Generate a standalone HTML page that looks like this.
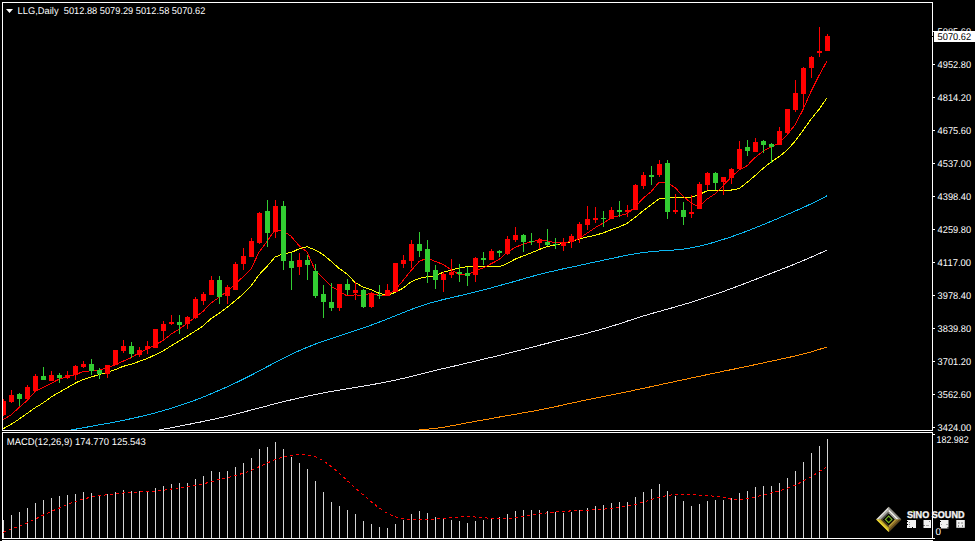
<!DOCTYPE html>
<html><head><meta charset="utf-8"><title>LLG,Daily</title>
<style>html,body{margin:0;padding:0;background:#000;width:975px;height:541px;overflow:hidden}svg{display:block}</style>
</head><body>
<svg width="975" height="541" viewBox="0 0 975 541"><rect x="0" y="0" width="975" height="541" fill="#000"/>
<defs><clipPath id="cm"><rect x="3" y="3" width="929" height="427"/></clipPath><clipPath id="cd"><rect x="3" y="433" width="929" height="105"/></clipPath></defs>
<g clip-path="url(#cm)">
<polyline points="-5.0,472.5 3.0,471.7 11.0,470.9 19.0,470.1 27.0,469.3 35.0,468.5 43.0,467.7 51.0,466.9 59.0,466.0 67.0,465.2 75.0,464.4 83.0,463.6 91.0,462.8 99.0,462.0 107.0,461.2 115.0,460.4 123.0,459.6 131.0,458.8 139.0,458.0 147.0,457.2 155.0,456.4 163.0,455.6 171.0,454.8 179.0,454.0 187.0,453.2 195.0,452.4 203.0,451.6 211.0,450.8 219.0,450.0 227.0,449.2 235.0,448.4 243.0,447.6 251.0,446.8 259.0,446.0 267.0,445.2 275.0,444.4 283.0,443.6 291.0,442.8 299.0,442.0 307.0,441.2 315.0,440.4 323.0,439.6 331.0,438.8 339.0,438.0 347.0,437.2 355.0,436.4 363.0,435.6 371.0,434.8 379.0,434.0 387.0,433.2 395.0,432.4 403.0,431.6 411.0,430.8 419.0,430.0 427.0,429.2 435.0,428.4 443.0,427.3 451.0,425.9 459.0,424.4 467.0,422.9 475.0,421.4 483.0,420.0 491.0,418.6 499.0,417.1 507.0,415.7 515.0,414.3 523.0,412.9 531.0,411.5 539.0,410.0 547.0,408.5 555.0,406.8 563.0,405.0 571.0,403.2 579.0,401.5 587.0,399.8 595.0,398.2 603.0,396.6 611.0,395.0 619.0,393.4 627.0,391.8 635.0,390.1 643.0,388.4 651.0,386.7 659.0,385.0 667.0,383.2 675.0,381.5 683.0,379.8 691.0,378.1 699.0,376.4 707.0,374.7 715.0,373.0 723.0,371.3 731.0,369.7 739.0,368.1 747.0,366.4 755.0,364.7 763.0,363.0 771.0,361.2 779.0,359.5 787.0,357.8 795.0,356.0 803.0,354.0 811.0,351.9 819.0,349.5 827.0,346.9" fill="none" stroke="#ff8c00" stroke-width="1" shape-rendering="crispEdges"/>
<polyline points="-5.0,460.4 3.0,458.9 11.0,457.4 19.0,455.9 27.0,454.5 35.0,453.0 43.0,451.5 51.0,450.0 59.0,448.5 67.0,447.0 75.0,445.6 83.0,444.1 91.0,442.6 99.0,441.1 107.0,439.6 115.0,438.1 123.0,436.7 131.0,435.2 139.0,433.7 147.0,432.2 155.0,430.7 163.0,429.2 171.0,427.8 179.0,426.2 187.0,424.7 195.0,423.1 203.0,421.5 211.0,419.9 219.0,418.1 227.0,416.3 235.0,414.3 243.0,412.2 251.0,410.1 259.0,408.0 267.0,405.9 275.0,403.8 283.0,401.8 291.0,399.9 299.0,398.1 307.0,396.3 315.0,394.6 323.0,393.0 331.0,391.5 339.0,390.2 347.0,388.8 355.0,387.5 363.0,386.2 371.0,384.8 379.0,383.4 387.0,381.9 395.0,380.2 403.0,378.4 411.0,376.4 419.0,374.4 427.0,372.4 435.0,370.5 443.0,368.6 451.0,366.8 459.0,365.0 467.0,363.1 475.0,361.2 483.0,359.3 491.0,357.4 499.0,355.4 507.0,353.4 515.0,351.4 523.0,349.5 531.0,347.5 539.0,345.4 547.0,343.4 555.0,341.3 563.0,339.3 571.0,337.2 579.0,335.2 587.0,333.2 595.0,331.0 603.0,328.8 611.0,326.4 619.0,323.9 627.0,321.2 635.0,318.6 643.0,316.1 651.0,313.7 659.0,311.5 667.0,309.3 675.0,307.0 683.0,304.7 691.0,302.3 699.0,299.7 707.0,297.1 715.0,294.4 723.0,291.6 731.0,288.7 739.0,285.7 747.0,282.7 755.0,279.6 763.0,276.5 771.0,273.4 779.0,270.3 787.0,267.2 795.0,264.0 803.0,260.7 811.0,257.2 819.0,253.7 827.0,250.1" fill="none" stroke="#e8e8f0" stroke-width="1" shape-rendering="crispEdges"/>
<polyline points="-5.0,444.3 3.0,442.8 11.0,441.3 19.0,439.8 27.0,438.3 35.0,436.8 43.0,435.3 51.0,433.8 59.0,432.3 67.0,430.8 75.0,429.3 83.0,427.8 91.0,426.4 99.0,424.9 107.0,423.5 115.0,422.0 123.0,420.4 131.0,418.7 139.0,416.9 147.0,415.0 155.0,412.9 163.0,410.7 171.0,408.3 179.0,405.8 187.0,403.1 195.0,400.2 203.0,397.1 211.0,393.8 219.0,390.4 227.0,386.9 235.0,383.2 243.0,379.3 251.0,375.3 259.0,371.1 267.0,366.8 275.0,362.6 283.0,358.5 291.0,354.5 299.0,350.8 307.0,347.4 315.0,344.2 323.0,341.3 331.0,338.6 339.0,336.0 347.0,333.4 355.0,330.8 363.0,328.0 371.0,325.2 379.0,322.2 387.0,319.1 395.0,315.9 403.0,312.7 411.0,309.6 419.0,306.6 427.0,304.0 435.0,301.7 443.0,299.6 451.0,297.7 459.0,295.9 467.0,294.0 475.0,292.0 483.0,290.0 491.0,287.9 499.0,285.7 507.0,283.5 515.0,281.3 523.0,279.0 531.0,276.7 539.0,274.5 547.0,272.5 555.0,270.7 563.0,268.9 571.0,267.2 579.0,265.5 587.0,263.7 595.0,262.0 603.0,260.3 611.0,258.6 619.0,256.9 627.0,255.2 635.0,253.8 643.0,252.6 651.0,251.6 659.0,251.0 667.0,250.5 675.0,249.9 683.0,249.1 691.0,247.9 699.0,246.2 707.0,244.3 715.0,242.0 723.0,239.5 731.0,236.9 739.0,234.1 747.0,231.1 755.0,228.0 763.0,224.7 771.0,221.4 779.0,218.0 787.0,214.6 795.0,211.1 803.0,207.6 811.0,203.9 819.0,200.0 827.0,195.8" fill="none" stroke="#0cb8f2" stroke-width="1" shape-rendering="crispEdges"/>
<polyline points="-5.0,433.4 3.0,428.9 11.0,424.4 19.0,419.2 27.0,413.5 35.0,407.8 43.0,403.0 51.0,397.1 59.0,392.4 67.0,388.0 75.0,383.2 83.0,379.5 91.0,377.1 99.0,374.6 107.0,372.4 115.0,369.8 123.0,366.4 131.0,364.3 139.0,361.5 147.0,358.6 155.0,354.9 163.0,350.9 171.0,346.0 179.0,341.1 187.0,336.3 195.0,331.2 203.0,326.0 211.0,318.6 219.0,313.3 227.0,307.4 235.0,300.9 243.0,294.1 251.0,286.0 259.0,274.8 267.0,266.4 275.0,257.1 283.0,253.8 291.0,252.6 299.0,248.9 307.0,246.7 315.0,249.9 323.0,254.5 331.0,261.2 339.0,268.3 347.0,274.0 355.0,282.4 363.0,287.0 371.0,289.6 379.0,293.2 387.0,295.7 395.0,292.4 403.0,288.2 411.0,281.8 419.0,278.5 427.0,276.7 435.0,275.7 443.0,272.4 451.0,270.2 459.0,268.0 467.0,266.6 475.0,266.1 483.0,266.1 491.0,266.8 499.0,267.0 507.0,263.7 515.0,259.2 523.0,256.0 531.0,253.0 539.0,249.6 547.0,246.5 555.0,245.2 563.0,243.4 571.0,241.9 579.0,239.0 587.0,237.0 595.0,235.3 603.0,233.0 611.0,229.8 619.0,227.0 627.0,223.5 635.0,217.5 643.0,210.8 651.0,204.9 659.0,198.9 667.0,198.2 675.0,197.4 683.0,197.2 691.0,197.4 699.0,194.6 707.0,190.9 715.0,190.7 723.0,190.9 731.0,190.1 739.0,188.6 747.0,182.5 755.0,175.7 763.0,168.5 771.0,162.0 779.0,156.7 787.0,150.3 795.0,141.3 803.0,130.4 811.0,119.2 819.0,109.4 827.0,97.9" fill="none" stroke="#ffff00" stroke-width="1" shape-rendering="crispEdges"/>
<polyline points="-5.0,423.9 3.0,419.5 11.0,415.1 19.0,407.5 27.0,400.6 35.0,391.6 43.0,387.4 51.0,383.4 59.0,379.2 67.0,376.8 75.0,374.8 83.0,371.6 91.0,370.8 99.0,370.0 107.0,368.0 115.0,364.8 123.0,361.2 131.0,357.8 139.0,353.0 147.0,349.2 155.0,345.0 163.0,340.6 171.0,334.2 179.0,329.2 187.0,323.4 195.0,317.4 203.0,311.4 211.0,303.0 219.0,297.4 227.0,291.4 235.0,284.4 243.0,276.8 251.0,269.0 259.0,252.2 267.0,241.4 275.0,229.8 283.0,230.8 291.0,236.2 299.0,245.6 307.0,252.0 315.0,270.0 323.0,278.2 331.0,286.2 339.0,291.0 347.0,296.0 355.0,294.8 363.0,295.8 371.0,293.0 379.0,295.4 387.0,295.4 395.0,290.0 403.0,280.6 411.0,270.6 419.0,261.6 427.0,258.0 435.0,261.4 443.0,264.2 451.0,269.8 459.0,274.4 467.0,275.2 475.0,270.8 483.0,268.0 491.0,263.8 499.0,259.6 507.0,252.2 515.0,247.6 523.0,244.0 531.0,242.2 539.0,239.6 547.0,240.8 555.0,242.8 563.0,242.8 571.0,241.6 579.0,238.4 587.0,233.2 595.0,227.8 603.0,223.2 611.0,218.0 619.0,215.6 627.0,213.8 635.0,207.2 643.0,198.4 651.0,191.8 659.0,182.2 667.0,182.6 675.0,187.6 683.0,196.0 691.0,203.0 699.0,207.0 707.0,199.2 715.0,193.8 723.0,185.8 731.0,177.2 739.0,170.2 747.0,165.8 755.0,157.6 763.0,151.2 771.0,146.8 779.0,143.2 787.0,134.8 795.0,125.0 803.0,109.6 811.0,91.6 819.0,75.6 827.0,61.0" fill="none" stroke="#ff0000" stroke-width="1" shape-rendering="crispEdges"/>
<rect x="3" y="399" width="1" height="17" fill="#ff0000"/>
<rect x="1" y="401" width="5" height="14" fill="#ff0000"/>
<rect x="11" y="390" width="1" height="13" fill="#ff0000"/>
<rect x="9" y="395" width="5" height="7" fill="#ff0000"/>
<rect x="19" y="393" width="1" height="13" fill="#32cd32"/>
<rect x="17" y="394" width="5" height="5" fill="#32cd32"/>
<rect x="27" y="385" width="1" height="14" fill="#ff0000"/>
<rect x="25" y="387" width="5" height="12" fill="#ff0000"/>
<rect x="35" y="374" width="1" height="17" fill="#ff0000"/>
<rect x="33" y="376" width="5" height="15" fill="#ff0000"/>
<rect x="43" y="367" width="1" height="13" fill="#32cd32"/>
<rect x="41" y="376" width="5" height="4" fill="#32cd32"/>
<rect x="51" y="371" width="1" height="10" fill="#ff0000"/>
<rect x="49" y="375" width="5" height="6" fill="#ff0000"/>
<rect x="59" y="373" width="1" height="10" fill="#32cd32"/>
<rect x="57" y="375" width="5" height="3" fill="#32cd32"/>
<rect x="67" y="371" width="1" height="8" fill="#ff0000"/>
<rect x="65" y="375" width="5" height="3" fill="#ff0000"/>
<rect x="75" y="365" width="1" height="15" fill="#ff0000"/>
<rect x="73" y="366" width="5" height="9" fill="#ff0000"/>
<rect x="83" y="361" width="1" height="7" fill="#ff0000"/>
<rect x="81" y="364" width="5" height="3" fill="#ff0000"/>
<rect x="91" y="359" width="1" height="16" fill="#32cd32"/>
<rect x="89" y="364" width="5" height="7" fill="#32cd32"/>
<rect x="99" y="368" width="1" height="11" fill="#32cd32"/>
<rect x="97" y="370" width="5" height="4" fill="#32cd32"/>
<rect x="107" y="365" width="1" height="13" fill="#ff0000"/>
<rect x="105" y="365" width="5" height="9" fill="#ff0000"/>
<rect x="115" y="350" width="1" height="15" fill="#ff0000"/>
<rect x="113" y="350" width="5" height="15" fill="#ff0000"/>
<rect x="123" y="340" width="1" height="13" fill="#ff0000"/>
<rect x="121" y="346" width="5" height="5" fill="#ff0000"/>
<rect x="131" y="342" width="1" height="16" fill="#32cd32"/>
<rect x="129" y="346" width="5" height="8" fill="#32cd32"/>
<rect x="139" y="347" width="1" height="10" fill="#ff0000"/>
<rect x="137" y="350" width="5" height="5" fill="#ff0000"/>
<rect x="147" y="341" width="1" height="13" fill="#ff0000"/>
<rect x="145" y="346" width="5" height="3" fill="#ff0000"/>
<rect x="155" y="329" width="1" height="19" fill="#ff0000"/>
<rect x="153" y="329" width="5" height="19" fill="#ff0000"/>
<rect x="163" y="321" width="1" height="19" fill="#ff0000"/>
<rect x="161" y="324" width="5" height="7" fill="#ff0000"/>
<rect x="171" y="315" width="1" height="10" fill="#ff0000"/>
<rect x="169" y="322" width="5" height="2" fill="#ff0000"/>
<rect x="179" y="315" width="1" height="19" fill="#32cd32"/>
<rect x="177" y="322" width="5" height="3" fill="#32cd32"/>
<rect x="187" y="316" width="1" height="13" fill="#ff0000"/>
<rect x="185" y="317" width="5" height="7" fill="#ff0000"/>
<rect x="195" y="297" width="1" height="22" fill="#ff0000"/>
<rect x="193" y="299" width="5" height="19" fill="#ff0000"/>
<rect x="203" y="292" width="1" height="13" fill="#ff0000"/>
<rect x="201" y="294" width="5" height="7" fill="#ff0000"/>
<rect x="211" y="276" width="1" height="19" fill="#ff0000"/>
<rect x="209" y="280" width="5" height="15" fill="#ff0000"/>
<rect x="219" y="276" width="1" height="28" fill="#32cd32"/>
<rect x="217" y="280" width="5" height="17" fill="#32cd32"/>
<rect x="227" y="285" width="1" height="19" fill="#ff0000"/>
<rect x="225" y="287" width="5" height="9" fill="#ff0000"/>
<rect x="235" y="262" width="1" height="28" fill="#ff0000"/>
<rect x="233" y="264" width="5" height="26" fill="#ff0000"/>
<rect x="243" y="248" width="1" height="22" fill="#ff0000"/>
<rect x="241" y="256" width="5" height="8" fill="#ff0000"/>
<rect x="251" y="238" width="1" height="19" fill="#ff0000"/>
<rect x="249" y="241" width="5" height="16" fill="#ff0000"/>
<rect x="259" y="212" width="1" height="32" fill="#ff0000"/>
<rect x="257" y="213" width="5" height="30" fill="#ff0000"/>
<rect x="267" y="200" width="1" height="47" fill="#32cd32"/>
<rect x="265" y="211" width="5" height="22" fill="#32cd32"/>
<rect x="275" y="200" width="1" height="38" fill="#ff0000"/>
<rect x="273" y="206" width="5" height="26" fill="#ff0000"/>
<rect x="283" y="201" width="1" height="69" fill="#32cd32"/>
<rect x="281" y="206" width="5" height="55" fill="#32cd32"/>
<rect x="291" y="253" width="1" height="37" fill="#32cd32"/>
<rect x="289" y="261" width="5" height="7" fill="#32cd32"/>
<rect x="299" y="253" width="1" height="22" fill="#ff0000"/>
<rect x="297" y="260" width="5" height="7" fill="#ff0000"/>
<rect x="307" y="255" width="1" height="25" fill="#32cd32"/>
<rect x="305" y="260" width="5" height="5" fill="#32cd32"/>
<rect x="315" y="264" width="1" height="34" fill="#32cd32"/>
<rect x="313" y="271" width="5" height="25" fill="#32cd32"/>
<rect x="323" y="285" width="1" height="33" fill="#32cd32"/>
<rect x="321" y="294" width="5" height="8" fill="#32cd32"/>
<rect x="331" y="283" width="1" height="28" fill="#32cd32"/>
<rect x="329" y="302" width="5" height="6" fill="#32cd32"/>
<rect x="339" y="284" width="1" height="27" fill="#ff0000"/>
<rect x="337" y="284" width="5" height="24" fill="#ff0000"/>
<rect x="347" y="279" width="1" height="16" fill="#32cd32"/>
<rect x="345" y="284" width="5" height="6" fill="#32cd32"/>
<rect x="355" y="282" width="1" height="18" fill="#ff0000"/>
<rect x="353" y="290" width="5" height="3" fill="#ff0000"/>
<rect x="363" y="289" width="1" height="19" fill="#32cd32"/>
<rect x="361" y="290" width="5" height="17" fill="#32cd32"/>
<rect x="371" y="292" width="1" height="16" fill="#ff0000"/>
<rect x="369" y="294" width="5" height="13" fill="#ff0000"/>
<rect x="379" y="285" width="1" height="14" fill="#32cd32"/>
<rect x="377" y="295" width="5" height="1" fill="#32cd32"/>
<rect x="387" y="284" width="1" height="12" fill="#ff0000"/>
<rect x="385" y="290" width="5" height="6" fill="#ff0000"/>
<rect x="395" y="263" width="1" height="29" fill="#ff0000"/>
<rect x="393" y="263" width="5" height="29" fill="#ff0000"/>
<rect x="403" y="255" width="1" height="13" fill="#ff0000"/>
<rect x="401" y="260" width="5" height="4" fill="#ff0000"/>
<rect x="411" y="240" width="1" height="28" fill="#ff0000"/>
<rect x="409" y="244" width="5" height="17" fill="#ff0000"/>
<rect x="419" y="232" width="1" height="25" fill="#32cd32"/>
<rect x="417" y="244" width="5" height="7" fill="#32cd32"/>
<rect x="427" y="240" width="1" height="43" fill="#32cd32"/>
<rect x="425" y="249" width="5" height="23" fill="#32cd32"/>
<rect x="435" y="265" width="1" height="24" fill="#32cd32"/>
<rect x="433" y="270" width="5" height="10" fill="#32cd32"/>
<rect x="443" y="272" width="1" height="20" fill="#ff0000"/>
<rect x="441" y="274" width="5" height="6" fill="#ff0000"/>
<rect x="451" y="259" width="1" height="19" fill="#ff0000"/>
<rect x="449" y="272" width="5" height="3" fill="#ff0000"/>
<rect x="459" y="264" width="1" height="18" fill="#32cd32"/>
<rect x="457" y="272" width="5" height="2" fill="#32cd32"/>
<rect x="467" y="267" width="1" height="19" fill="#32cd32"/>
<rect x="465" y="273" width="5" height="3" fill="#32cd32"/>
<rect x="475" y="257" width="1" height="25" fill="#ff0000"/>
<rect x="473" y="258" width="5" height="17" fill="#ff0000"/>
<rect x="483" y="252" width="1" height="13" fill="#32cd32"/>
<rect x="481" y="258" width="5" height="2" fill="#32cd32"/>
<rect x="491" y="249" width="1" height="11" fill="#ff0000"/>
<rect x="489" y="251" width="5" height="9" fill="#ff0000"/>
<rect x="499" y="250" width="1" height="7" fill="#32cd32"/>
<rect x="497" y="251" width="5" height="2" fill="#32cd32"/>
<rect x="507" y="236" width="1" height="19" fill="#ff0000"/>
<rect x="505" y="239" width="5" height="15" fill="#ff0000"/>
<rect x="515" y="227" width="1" height="15" fill="#ff0000"/>
<rect x="513" y="235" width="5" height="5" fill="#ff0000"/>
<rect x="523" y="234" width="1" height="18" fill="#32cd32"/>
<rect x="521" y="235" width="5" height="7" fill="#32cd32"/>
<rect x="531" y="233" width="1" height="12" fill="#32cd32"/>
<rect x="529" y="241" width="5" height="1" fill="#32cd32"/>
<rect x="539" y="238" width="1" height="11" fill="#ff0000"/>
<rect x="537" y="240" width="5" height="3" fill="#ff0000"/>
<rect x="547" y="229" width="1" height="17" fill="#32cd32"/>
<rect x="545" y="242" width="5" height="3" fill="#32cd32"/>
<rect x="555" y="238" width="1" height="11" fill="#32cd32"/>
<rect x="553" y="244" width="5" height="1" fill="#32cd32"/>
<rect x="563" y="238" width="1" height="13" fill="#ff0000"/>
<rect x="561" y="242" width="5" height="4" fill="#ff0000"/>
<rect x="571" y="234" width="1" height="14" fill="#ff0000"/>
<rect x="569" y="236" width="5" height="6" fill="#ff0000"/>
<rect x="579" y="222" width="1" height="21" fill="#ff0000"/>
<rect x="577" y="224" width="5" height="14" fill="#ff0000"/>
<rect x="587" y="206" width="1" height="24" fill="#ff0000"/>
<rect x="585" y="219" width="5" height="6" fill="#ff0000"/>
<rect x="595" y="207" width="1" height="16" fill="#ff0000"/>
<rect x="593" y="218" width="5" height="2" fill="#ff0000"/>
<rect x="603" y="211" width="1" height="16" fill="#32cd32"/>
<rect x="601" y="218" width="5" height="1" fill="#32cd32"/>
<rect x="611" y="207" width="1" height="12" fill="#ff0000"/>
<rect x="609" y="210" width="5" height="9" fill="#ff0000"/>
<rect x="619" y="201" width="1" height="16" fill="#32cd32"/>
<rect x="617" y="210" width="5" height="2" fill="#32cd32"/>
<rect x="627" y="205" width="1" height="12" fill="#ff0000"/>
<rect x="625" y="210" width="5" height="2" fill="#ff0000"/>
<rect x="635" y="184" width="1" height="26" fill="#ff0000"/>
<rect x="633" y="185" width="5" height="25" fill="#ff0000"/>
<rect x="643" y="172" width="1" height="17" fill="#ff0000"/>
<rect x="641" y="175" width="5" height="11" fill="#ff0000"/>
<rect x="651" y="166" width="1" height="19" fill="#32cd32"/>
<rect x="649" y="175" width="5" height="2" fill="#32cd32"/>
<rect x="659" y="160" width="1" height="17" fill="#ff0000"/>
<rect x="657" y="164" width="5" height="11" fill="#ff0000"/>
<rect x="667" y="160" width="1" height="59" fill="#32cd32"/>
<rect x="665" y="163" width="5" height="49" fill="#32cd32"/>
<rect x="675" y="194" width="1" height="20" fill="#ff0000"/>
<rect x="673" y="210" width="5" height="2" fill="#ff0000"/>
<rect x="683" y="202" width="1" height="23" fill="#32cd32"/>
<rect x="681" y="210" width="5" height="7" fill="#32cd32"/>
<rect x="691" y="195" width="1" height="23" fill="#ff0000"/>
<rect x="689" y="212" width="5" height="2" fill="#ff0000"/>
<rect x="699" y="182" width="1" height="27" fill="#ff0000"/>
<rect x="697" y="184" width="5" height="25" fill="#ff0000"/>
<rect x="707" y="172" width="1" height="18" fill="#ff0000"/>
<rect x="705" y="173" width="5" height="12" fill="#ff0000"/>
<rect x="715" y="172" width="1" height="18" fill="#32cd32"/>
<rect x="713" y="173" width="5" height="10" fill="#32cd32"/>
<rect x="723" y="177" width="1" height="18" fill="#ff0000"/>
<rect x="721" y="177" width="5" height="5" fill="#ff0000"/>
<rect x="731" y="168" width="1" height="16" fill="#ff0000"/>
<rect x="729" y="169" width="5" height="9" fill="#ff0000"/>
<rect x="739" y="141" width="1" height="29" fill="#ff0000"/>
<rect x="737" y="149" width="5" height="20" fill="#ff0000"/>
<rect x="747" y="140" width="1" height="16" fill="#32cd32"/>
<rect x="745" y="147" width="5" height="4" fill="#32cd32"/>
<rect x="755" y="138" width="1" height="14" fill="#ff0000"/>
<rect x="753" y="142" width="5" height="10" fill="#ff0000"/>
<rect x="763" y="140" width="1" height="13" fill="#32cd32"/>
<rect x="761" y="141" width="5" height="4" fill="#32cd32"/>
<rect x="771" y="143" width="1" height="20" fill="#32cd32"/>
<rect x="769" y="144" width="5" height="3" fill="#32cd32"/>
<rect x="779" y="127" width="1" height="18" fill="#ff0000"/>
<rect x="777" y="131" width="5" height="14" fill="#ff0000"/>
<rect x="787" y="109" width="1" height="26" fill="#ff0000"/>
<rect x="785" y="109" width="5" height="24" fill="#ff0000"/>
<rect x="795" y="80" width="1" height="32" fill="#ff0000"/>
<rect x="793" y="93" width="5" height="17" fill="#ff0000"/>
<rect x="803" y="67" width="1" height="41" fill="#ff0000"/>
<rect x="801" y="68" width="5" height="26" fill="#ff0000"/>
<rect x="811" y="56" width="1" height="22" fill="#ff0000"/>
<rect x="809" y="57" width="5" height="11" fill="#ff0000"/>
<rect x="819" y="27" width="1" height="30" fill="#ff0000"/>
<rect x="817" y="51" width="5" height="2" fill="#ff0000"/>
<rect x="827" y="34" width="1" height="17" fill="#ff0000"/>
<rect x="825" y="36" width="5" height="15" fill="#ff0000"/>
</g>
<g clip-path="url(#cd)">
<rect x="3" y="520" width="1" height="18" fill="#d4d4d4"/>
<rect x="11" y="515" width="1" height="23" fill="#d4d4d4"/>
<rect x="19" y="512" width="1" height="26" fill="#d4d4d4"/>
<rect x="27" y="508" width="1" height="30" fill="#d4d4d4"/>
<rect x="35" y="503" width="1" height="35" fill="#d4d4d4"/>
<rect x="43" y="500" width="1" height="38" fill="#d4d4d4"/>
<rect x="51" y="498" width="1" height="40" fill="#d4d4d4"/>
<rect x="59" y="496" width="1" height="42" fill="#d4d4d4"/>
<rect x="67" y="495" width="1" height="43" fill="#d4d4d4"/>
<rect x="75" y="494" width="1" height="44" fill="#d4d4d4"/>
<rect x="83" y="492" width="1" height="46" fill="#d4d4d4"/>
<rect x="91" y="493" width="1" height="45" fill="#d4d4d4"/>
<rect x="99" y="496" width="1" height="42" fill="#d4d4d4"/>
<rect x="107" y="494" width="1" height="44" fill="#d4d4d4"/>
<rect x="115" y="492" width="1" height="46" fill="#d4d4d4"/>
<rect x="123" y="490" width="1" height="48" fill="#d4d4d4"/>
<rect x="131" y="491" width="1" height="47" fill="#d4d4d4"/>
<rect x="139" y="491" width="1" height="47" fill="#d4d4d4"/>
<rect x="147" y="491" width="1" height="47" fill="#d4d4d4"/>
<rect x="155" y="488" width="1" height="50" fill="#d4d4d4"/>
<rect x="163" y="486" width="1" height="52" fill="#d4d4d4"/>
<rect x="171" y="484" width="1" height="54" fill="#d4d4d4"/>
<rect x="179" y="483" width="1" height="55" fill="#d4d4d4"/>
<rect x="187" y="483" width="1" height="55" fill="#d4d4d4"/>
<rect x="195" y="479" width="1" height="59" fill="#d4d4d4"/>
<rect x="203" y="476" width="1" height="62" fill="#d4d4d4"/>
<rect x="211" y="471" width="1" height="67" fill="#d4d4d4"/>
<rect x="219" y="472" width="1" height="66" fill="#d4d4d4"/>
<rect x="227" y="471" width="1" height="67" fill="#d4d4d4"/>
<rect x="235" y="467" width="1" height="71" fill="#d4d4d4"/>
<rect x="243" y="463" width="1" height="75" fill="#d4d4d4"/>
<rect x="251" y="458" width="1" height="80" fill="#d4d4d4"/>
<rect x="259" y="449" width="1" height="89" fill="#d4d4d4"/>
<rect x="267" y="447" width="1" height="91" fill="#d4d4d4"/>
<rect x="275" y="442" width="1" height="96" fill="#d4d4d4"/>
<rect x="283" y="449" width="1" height="89" fill="#d4d4d4"/>
<rect x="291" y="457" width="1" height="81" fill="#d4d4d4"/>
<rect x="299" y="463" width="1" height="75" fill="#d4d4d4"/>
<rect x="307" y="469" width="1" height="69" fill="#d4d4d4"/>
<rect x="315" y="481" width="1" height="57" fill="#d4d4d4"/>
<rect x="323" y="492" width="1" height="46" fill="#d4d4d4"/>
<rect x="331" y="502" width="1" height="36" fill="#d4d4d4"/>
<rect x="339" y="506" width="1" height="32" fill="#d4d4d4"/>
<rect x="347" y="510" width="1" height="28" fill="#d4d4d4"/>
<rect x="355" y="514" width="1" height="24" fill="#d4d4d4"/>
<rect x="363" y="521" width="1" height="17" fill="#d4d4d4"/>
<rect x="371" y="524" width="1" height="14" fill="#d4d4d4"/>
<rect x="379" y="527" width="1" height="11" fill="#d4d4d4"/>
<rect x="387" y="528" width="1" height="10" fill="#d4d4d4"/>
<rect x="395" y="524" width="1" height="14" fill="#d4d4d4"/>
<rect x="403" y="520" width="1" height="18" fill="#d4d4d4"/>
<rect x="411" y="514" width="1" height="24" fill="#d4d4d4"/>
<rect x="419" y="511" width="1" height="27" fill="#d4d4d4"/>
<rect x="427" y="513" width="1" height="25" fill="#d4d4d4"/>
<rect x="435" y="517" width="1" height="21" fill="#d4d4d4"/>
<rect x="443" y="518" width="1" height="20" fill="#d4d4d4"/>
<rect x="451" y="520" width="1" height="18" fill="#d4d4d4"/>
<rect x="459" y="521" width="1" height="17" fill="#d4d4d4"/>
<rect x="467" y="523" width="1" height="15" fill="#d4d4d4"/>
<rect x="475" y="521" width="1" height="17" fill="#d4d4d4"/>
<rect x="483" y="520" width="1" height="18" fill="#d4d4d4"/>
<rect x="491" y="518" width="1" height="20" fill="#d4d4d4"/>
<rect x="499" y="517" width="1" height="21" fill="#d4d4d4"/>
<rect x="507" y="514" width="1" height="24" fill="#d4d4d4"/>
<rect x="515" y="511" width="1" height="27" fill="#d4d4d4"/>
<rect x="523" y="510" width="1" height="28" fill="#d4d4d4"/>
<rect x="531" y="510" width="1" height="28" fill="#d4d4d4"/>
<rect x="539" y="510" width="1" height="28" fill="#d4d4d4"/>
<rect x="547" y="511" width="1" height="27" fill="#d4d4d4"/>
<rect x="555" y="512" width="1" height="26" fill="#d4d4d4"/>
<rect x="563" y="513" width="1" height="25" fill="#d4d4d4"/>
<rect x="571" y="512" width="1" height="26" fill="#d4d4d4"/>
<rect x="579" y="510" width="1" height="28" fill="#d4d4d4"/>
<rect x="587" y="508" width="1" height="30" fill="#d4d4d4"/>
<rect x="595" y="506" width="1" height="32" fill="#d4d4d4"/>
<rect x="603" y="505" width="1" height="33" fill="#d4d4d4"/>
<rect x="611" y="503" width="1" height="35" fill="#d4d4d4"/>
<rect x="619" y="502" width="1" height="36" fill="#d4d4d4"/>
<rect x="627" y="502" width="1" height="36" fill="#d4d4d4"/>
<rect x="635" y="497" width="1" height="41" fill="#d4d4d4"/>
<rect x="643" y="492" width="1" height="46" fill="#d4d4d4"/>
<rect x="651" y="489" width="1" height="49" fill="#d4d4d4"/>
<rect x="659" y="484" width="1" height="54" fill="#d4d4d4"/>
<rect x="667" y="491" width="1" height="47" fill="#d4d4d4"/>
<rect x="675" y="496" width="1" height="42" fill="#d4d4d4"/>
<rect x="683" y="501" width="1" height="37" fill="#d4d4d4"/>
<rect x="691" y="506" width="1" height="32" fill="#d4d4d4"/>
<rect x="699" y="504" width="1" height="34" fill="#d4d4d4"/>
<rect x="707" y="501" width="1" height="37" fill="#d4d4d4"/>
<rect x="715" y="500" width="1" height="38" fill="#d4d4d4"/>
<rect x="723" y="500" width="1" height="38" fill="#d4d4d4"/>
<rect x="731" y="498" width="1" height="40" fill="#d4d4d4"/>
<rect x="739" y="493" width="1" height="45" fill="#d4d4d4"/>
<rect x="747" y="491" width="1" height="47" fill="#d4d4d4"/>
<rect x="755" y="487" width="1" height="51" fill="#d4d4d4"/>
<rect x="763" y="486" width="1" height="52" fill="#d4d4d4"/>
<rect x="771" y="486" width="1" height="52" fill="#d4d4d4"/>
<rect x="779" y="483" width="1" height="55" fill="#d4d4d4"/>
<rect x="787" y="478" width="1" height="60" fill="#d4d4d4"/>
<rect x="795" y="471" width="1" height="67" fill="#d4d4d4"/>
<rect x="803" y="462" width="1" height="76" fill="#d4d4d4"/>
<rect x="811" y="453" width="1" height="85" fill="#d4d4d4"/>
<rect x="819" y="446" width="1" height="92" fill="#d4d4d4"/>
<rect x="827" y="439" width="1" height="99" fill="#d4d4d4"/>
<polyline points="3.0,532.3 11.0,529.1 19.0,526.3 27.0,523.1 35.0,519.2 43.0,515.3 51.0,511.4 59.0,508.2 67.0,504.6 75.0,501.7 83.0,499.2 91.0,497.1 99.0,495.7 107.0,494.8 115.0,493.9 123.0,493.0 131.0,492.4 139.0,492.0 147.0,491.6 155.0,491.2 163.0,490.4 171.0,489.1 179.0,487.8 187.0,486.8 195.0,485.6 203.0,484.0 211.0,481.7 219.0,479.6 227.0,477.7 235.0,475.6 243.0,473.3 251.0,470.5 259.0,466.8 267.0,463.2 275.0,459.4 283.0,457.0 291.0,455.4 299.0,454.5 307.0,454.7 315.0,456.7 323.0,460.5 331.0,466.4 339.0,472.9 347.0,480.4 355.0,487.7 363.0,494.7 371.0,501.5 379.0,507.9 387.0,513.1 395.0,516.7 403.0,518.7 411.0,519.6 419.0,519.7 427.0,519.6 435.0,519.1 443.0,518.5 451.0,517.7 459.0,517.0 467.0,516.9 475.0,517.0 483.0,517.6 491.0,518.5 499.0,518.9 507.0,518.6 515.0,517.7 523.0,516.6 531.0,515.4 539.0,514.0 547.0,512.9 555.0,512.1 563.0,511.5 571.0,510.9 579.0,510.5 587.0,510.2 595.0,509.8 603.0,509.2 611.0,508.4 619.0,507.4 627.0,506.2 635.0,504.5 643.0,502.2 651.0,499.8 659.0,497.2 667.0,495.5 675.0,494.5 683.0,494.3 691.0,494.7 699.0,495.0 707.0,495.4 715.0,496.3 723.0,497.5 731.0,499.1 739.0,499.3 747.0,498.7 755.0,497.2 763.0,495.0 771.0,493.0 779.0,491.0 787.0,488.5 795.0,485.3 803.0,481.3 811.0,476.9 819.0,471.9 827.0,466.5" fill="none" stroke="#ff0000" stroke-width="1" stroke-dasharray="3 3" shape-rendering="crispEdges"/>
</g>
<g>
<polygon points="888.70,506.90 901.20,519.40 888.70,531.90 876.20,519.40" fill="#8a8050"/>
<polygon points="876.10,519.40 888.70,506.80 888.70,509.20 878.50,519.40" fill="#dcdcdc"/>
<polygon points="878.50,519.40 888.70,509.20 888.70,511.40 880.70,519.40" fill="#a8a8a8"/>
<polygon points="880.70,519.40 888.70,511.40 888.70,513.40 882.70,519.40" fill="#4c4c4c"/>
<polygon points="888.70,506.80 901.30,519.40 898.90,519.40 888.70,509.20" fill="#8a8a8a"/>
<polygon points="888.70,509.20 898.90,519.40 896.70,519.40 888.70,511.40" fill="#eeeeee"/>
<polygon points="888.70,511.40 896.70,519.40 894.70,519.40 888.70,513.40" fill="#9c9c9c"/>
<polygon points="901.30,519.40 888.70,532.00 888.70,529.60 898.90,519.40" fill="#62481a"/>
<polygon points="898.90,519.40 888.70,529.60 888.70,527.40 896.70,519.40" fill="#8c6c26"/>
<polygon points="896.70,519.40 888.70,527.40 888.70,525.40 894.70,519.40" fill="#bc9c34"/>
<polygon points="888.70,532.00 876.10,519.40 878.50,519.40 888.70,529.60" fill="#eed82a"/>
<polygon points="888.70,529.60 878.50,519.40 880.70,519.40 888.70,527.40" fill="#c8ae22"/>
<polygon points="888.70,527.40 880.70,519.40 882.70,519.40 888.70,525.40" fill="#4a3814"/>
<polygon points="888.70,513.40 894.70,519.40 888.70,525.40 882.70,519.40" fill="#000"/>
<polygon points="888.70,516.10 892.00,519.40 888.70,522.70 885.40,519.40" fill="none" stroke="#76b822" stroke-width="1.15"/>
<text x="907" y="517.8" font-family='"Liberation Sans", sans-serif' text-rendering="geometricPrecision" font-weight="bold" font-size="9.8" fill="#f4f4f4" stroke="#f4f4f4" stroke-width="0.35" textLength="57.5" lengthAdjust="spacingAndGlyphs">SINO SOUND</text>
<rect x="912.6" y="510.6" width="1.6" height="1.4" fill="#7cc424"/>
<rect x="907" y="520" width="9.0" height="8.0" fill="#f2f2f2"/>
<rect x="923.5" y="520" width="7.5" height="8.0" fill="#f2f2f2"/>
<rect x="940" y="520" width="8.5" height="8.5" fill="#f2f2f2"/>
<rect x="956.3" y="520" width="8.5" height="7.8" fill="#f2f2f2"/>
<rect x="907" y="521" width="1" height="1" fill="#000"/>
<rect x="907" y="524" width="1" height="1" fill="#000"/>
<rect x="909" y="522" width="1" height="1" fill="#999"/>
<rect x="909" y="524" width="1" height="1" fill="#999"/>
<rect x="909" y="526" width="1" height="1" fill="#999"/>
<rect x="912" y="527" width="1" height="1" fill="#000"/>
<rect x="923.5" y="525" width="1" height="1" fill="#000"/>
<rect x="929" y="521" width="1" height="1" fill="#888"/>
<rect x="926" y="525" width="3" height="1" fill="#aaa"/>
<rect x="940" y="521" width="1" height="1" fill="#000"/>
<rect x="941" y="524" width="1" height="1" fill="#aaa"/>
<rect x="946" y="524" width="2" height="1" fill="#aaa"/>
<rect x="940" y="527" width="1" height="1.5" fill="#000"/>
<rect x="947.5" y="527" width="1" height="1.5" fill="#000"/>
<rect x="958" y="522" width="1.5" height="2" fill="#aaa"/>
<rect x="961" y="522" width="2" height="2" fill="#bbb"/>
<rect x="958" y="525.5" width="1" height="1" fill="#333"/>
<rect x="962" y="525.5" width="1" height="1" fill="#333"/>
</g>
<rect x="2" y="2" width="931" height="1" fill="#fff"/>
<rect x="2" y="430" width="931" height="1" fill="#fff"/>
<rect x="2" y="2" width="1" height="429" fill="#fff"/>
<rect x="932" y="2" width="1" height="429" fill="#fff"/>
<rect x="2" y="432" width="931" height="1" fill="#fff"/>
<rect x="2" y="538" width="931" height="1" fill="#fff"/>
<rect x="2" y="540" width="931" height="1" fill="#fff"/>
<rect x="2" y="432" width="1" height="107" fill="#fff"/>
<rect x="932" y="432" width="1" height="107" fill="#fff"/>
<rect x="933" y="31" width="2" height="1" fill="#fff"/>
<rect x="933" y="64" width="2" height="1" fill="#fff"/>
<rect x="933" y="97" width="2" height="1" fill="#fff"/>
<rect x="933" y="130" width="2" height="1" fill="#fff"/>
<rect x="933" y="163" width="2" height="1" fill="#fff"/>
<rect x="933" y="196" width="2" height="1" fill="#fff"/>
<rect x="933" y="229" width="2" height="1" fill="#fff"/>
<rect x="933" y="262" width="2" height="1" fill="#fff"/>
<rect x="933" y="295" width="2" height="1" fill="#fff"/>
<rect x="933" y="328" width="2" height="1" fill="#fff"/>
<rect x="933" y="361" width="2" height="1" fill="#fff"/>
<rect x="933" y="394" width="2" height="1" fill="#fff"/>
<rect x="933" y="427" width="2" height="1" fill="#fff"/>
<rect x="933" y="434" width="2" height="1" fill="#fff"/>
<rect x="933" y="538" width="2" height="1" fill="#fff"/>
<rect x="934" y="31" width="41" height="11" fill="#fff"/>
<rect x="932" y="36" width="2" height="1" fill="#000"/>
<g font-family='"Liberation Sans", sans-serif' text-rendering="geometricPrecision"><text x="937.6" y="35.0" textLength="33.5" lengthAdjust="spacingAndGlyphs" fill="#fff" font-size="9.8">5085.60</text><text x="937.6" y="68.0" textLength="33.5" lengthAdjust="spacingAndGlyphs" fill="#fff" font-size="9.8">4952.80</text><text x="937.6" y="101.0" textLength="33.5" lengthAdjust="spacingAndGlyphs" fill="#fff" font-size="9.8">4814.20</text><text x="937.6" y="133.9" textLength="33.5" lengthAdjust="spacingAndGlyphs" fill="#fff" font-size="9.8">4675.60</text><text x="937.6" y="166.9" textLength="33.5" lengthAdjust="spacingAndGlyphs" fill="#fff" font-size="9.8">4537.00</text><text x="937.6" y="199.9" textLength="33.5" lengthAdjust="spacingAndGlyphs" fill="#fff" font-size="9.8">4398.40</text><text x="937.6" y="232.9" textLength="33.5" lengthAdjust="spacingAndGlyphs" fill="#fff" font-size="9.8">4259.80</text><text x="937.6" y="265.9" textLength="33.5" lengthAdjust="spacingAndGlyphs" fill="#fff" font-size="9.8">4117.00</text><text x="937.6" y="298.8" textLength="33.5" lengthAdjust="spacingAndGlyphs" fill="#fff" font-size="9.8">3978.40</text><text x="937.6" y="331.8" textLength="33.5" lengthAdjust="spacingAndGlyphs" fill="#fff" font-size="9.8">3839.80</text><text x="937.6" y="364.8" textLength="33.5" lengthAdjust="spacingAndGlyphs" fill="#fff" font-size="9.8">3701.20</text><text x="937.6" y="397.8" textLength="33.5" lengthAdjust="spacingAndGlyphs" fill="#fff" font-size="9.8">3562.60</text><text x="937.6" y="430.8" textLength="33.5" lengthAdjust="spacingAndGlyphs" fill="#fff" font-size="9.8">3424.00</text><text x="936.6" y="443.4" textLength="32" lengthAdjust="spacingAndGlyphs" fill="#fff" font-size="9.8">182.982</text><text x="935.6" y="535.2" fill="#fff" font-size="9.8">0</text><text x="937.6" y="39.8" textLength="33.5" lengthAdjust="spacingAndGlyphs" fill="#000" font-size="9.8">5070.62</text><text x="17.6" y="14.2" textLength="41" lengthAdjust="spacingAndGlyphs" fill="#fff" font-size="9.8">LLG,Daily</text><text x="63.8" y="14.2" textLength="141.5" lengthAdjust="spacingAndGlyphs" fill="#fff" font-size="9.8">5012.88 5079.29 5012.58 5070.62</text><text x="6.8" y="445" textLength="139" lengthAdjust="spacingAndGlyphs" fill="#fff" font-size="9.8">MACD(12,26,9) 174.770 125.543</text></g>
<polygon points="6,9 13,9 9.5,13" fill="#fff"/></svg>
</body></html>
